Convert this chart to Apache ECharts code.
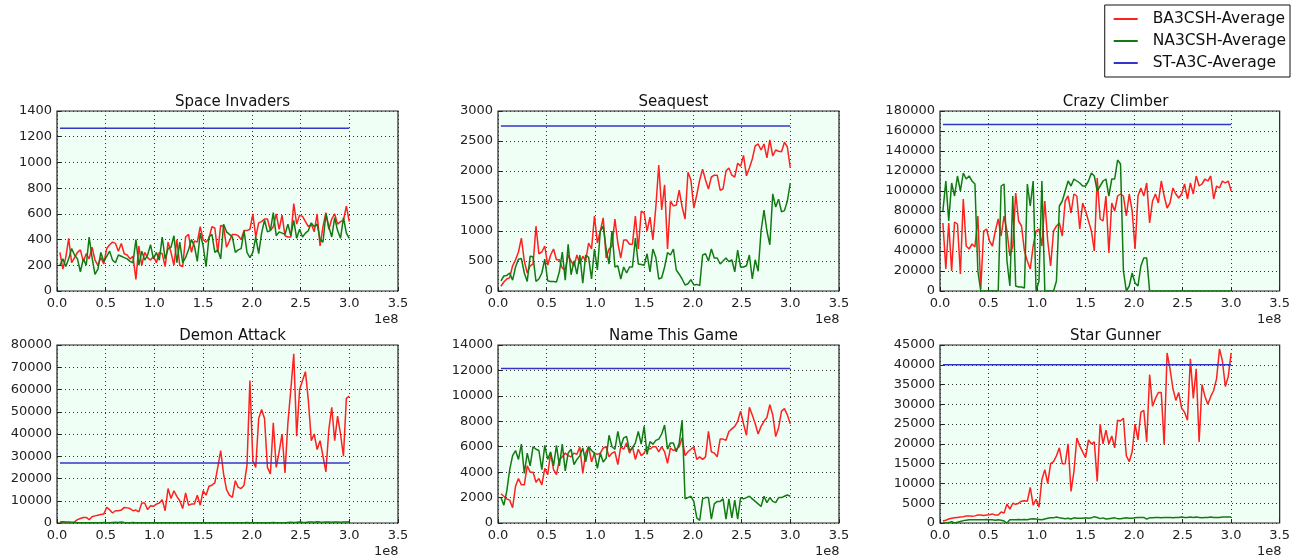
<!DOCTYPE html>
<html><head><meta charset="utf-8">
<script src="https://cdn.jsdelivr.net/npm/echarts@6/dist/echarts.min.js"></script>
<style>html,body{margin:0;padding:0;background:#fff}#c{width:1293px;height:558px}</style>
</head><body><div id="c"></div>
<script>
const steps = [0.03,0.06,0.09,0.12,0.15,0.18,0.21,0.24,0.27,0.30,
0.33,0.36,0.39,0.42,0.45,0.48,0.51,0.54,0.57,0.60,
0.63,0.66,0.69,0.72,0.75,0.78,0.81,0.84,0.87,0.90,
0.93,0.96,0.99,1.02,1.05,1.08,1.11,1.14,1.17,1.20,
1.23,1.26,1.29,1.32,1.35,1.38,1.41,1.44,1.47,1.50,
1.53,1.56,1.59,1.62,1.65,1.68,1.71,1.74,1.77,1.80,
1.83,1.86,1.89,1.92,1.95,1.98,2.01,2.04,2.07,2.10,
2.13,2.16,2.19,2.22,2.25,2.28,2.31,2.34,2.37,2.40,
2.43,2.46,2.49,2.52,2.55,2.58,2.61,2.64,2.67,2.70,
2.73,2.76,2.79,2.82,2.85,2.88,2.91,2.94,2.97,3.00];

const titles = ["Space Invaders","Seaquest","Crazy Climber","Demon Attack","Name This Game","Star Gunner"];
const seriesNames = ["BA3CSH-Average","NA3CSH-Average","ST-A3C-Average"];
const yMax = [1400,3000,180000,80000,14000,45000];
const yStep = [200,500,20000,10000,2000,5000];
const stA3C = [1265,2750,166500,27000,12150,40000];

const siBA = [300,170,260,410,220,260,300,320,230,290,
250,340,240,200,260,210,330,360,380,370,
310,370,290,280,250,270,90,350,200,300,
260,240,270,220,300,290,190,380,300,200,
400,200,190,420,440,300,390,380,500,400,
380,410,500,490,300,510,500,340,390,440,
440,430,400,470,470,480,600,420,530,540,
560,560,470,500,600,480,590,430,420,420,
680,520,590,580,540,500,520,460,600,350,
500,610,480,560,600,520,540,550,660,540];
const siNA = [200,250,190,250,330,280,250,150,250,200,
420,260,130,170,300,230,270,310,240,220,
280,270,260,250,230,220,400,200,310,240,
280,360,250,300,240,420,250,330,340,430,
220,380,220,260,320,400,350,230,450,350,
190,420,440,300,320,250,520,460,440,420,
300,320,330,470,300,260,300,420,290,450,
550,460,470,610,430,460,450,440,520,430,
550,410,480,420,450,470,530,500,520,400,
380,600,500,420,570,470,410,570,450,410];

const sqBA = [80,150,200,220,420,520,650,880,500,300,
420,450,1080,620,650,750,430,600,700,520,
520,380,350,600,500,420,600,450,580,500,
800,700,1250,800,1000,1220,550,700,750,1200,
800,550,850,850,780,780,1250,700,1330,1300,
1000,1230,850,1400,2100,1350,1770,700,1500,1420,
1430,1680,1400,1200,1980,1850,1380,1600,1850,2030,
1850,1700,1900,1930,1930,1680,1700,2000,2050,1930,
1900,2130,2080,2260,1920,2050,2200,2420,2450,2350,
2450,2220,2520,2250,2350,2330,2320,2480,2400,2050];
const sqNA = [170,250,260,300,180,400,530,540,300,160,
580,570,160,200,300,530,170,160,160,150,
320,650,180,780,270,500,280,600,130,600,
560,200,700,350,1000,1080,700,450,1000,400,
420,200,400,300,400,400,880,450,440,430,
620,320,700,560,200,220,400,640,600,700,
350,280,200,100,120,190,100,110,90,600,
620,500,700,550,550,450,500,550,490,520,
320,680,400,400,420,600,200,520,330,1000,
1350,1000,770,1620,1400,1530,1320,1340,1500,1800];

const ccBA = [68000,22000,68000,20000,69000,67000,17000,92000,45000,42000,
47000,44000,75000,2000,60000,62000,50000,45000,60000,72000,
55000,75000,60000,35000,45000,98000,70000,65000,40000,30000,
22000,45000,60000,62000,45000,90000,50000,25000,60000,65000,
68000,55000,90000,95000,78000,97000,95000,62000,88000,80000,
70000,60000,40000,113000,72000,70000,95000,38000,88000,80000,
95000,97000,95000,75000,97000,80000,42000,95000,103000,95000,
108000,68000,90000,97000,88000,110000,95000,83000,88000,103000,
97000,93000,97000,107000,92000,108000,97000,115000,105000,107000,
112000,110000,115000,92000,105000,103000,110000,108000,110000,100000];
const ccNA = [80000,110000,70000,108000,95000,115000,100000,118000,112000,115000,
110000,107000,20000,0,0,0,0,0,0,0,
105000,107000,30000,5000,95000,5000,4000,4000,3000,107000,
85000,110000,0,10000,110000,0,0,0,0,10000,
85000,90000,100000,110000,105000,112000,110000,108000,105000,105000,
110000,118000,115000,100000,105000,110000,112000,95000,112000,112000,
131000,127000,20000,0,5000,18000,8000,5000,25000,33000,
33000,0,0,0,0,0,0,0,0,0,
0,0,0,0,0,0,0,0,0,0,
0,0,0,0,0,0,0,0,0,0];

const daBA = [0,0,0,0,0,500,1500,2000,2500,2500,
1500,2800,3200,3500,3800,4000,7000,6000,4500,5500,
5500,5800,7000,6800,6500,5500,5800,5000,9000,9000,
6000,7800,7500,8500,9000,10500,5500,15500,11000,14500,
12000,10000,6500,13500,8000,8500,8500,12500,8000,14500,
12500,16500,17000,18000,25000,32500,22000,15000,12500,11500,
19000,16000,15500,17000,26000,64000,28000,25000,47000,51000,
47000,25000,22000,45000,25000,32000,40000,22500,45000,60000,
76000,39000,60000,64000,68000,55000,37000,40000,33000,37000,
30000,23000,42000,52000,37000,48000,40000,30000,56000,57000];
const daNA = [500,600,500,400,300,200,150,100,100,100,
100,100,150,100,100,200,150,100,200,300,
200,500,200,150,100,200,100,150,100,100,
150,100,100,150,100,100,150,100,100,100,
100,100,100,150,100,100,100,150,100,100,
100,150,100,100,100,150,100,100,100,150,
100,100,150,100,200,100,100,150,100,100,
150,100,100,200,100,150,100,100,200,300,
200,300,500,300,200,400,500,300,600,400,
300,500,400,300,500,400,300,500,400,600];

const ntBA = [2300,2100,1900,1800,1200,2900,3500,3000,3000,4500,
4000,4000,3200,3500,3000,4300,3800,5500,4200,3800,
5000,5200,5500,5300,5200,5500,5400,6000,3900,5500,
6000,4800,5500,5400,5500,5900,6000,5200,5500,5600,
4600,6000,5800,6300,5500,6000,5000,5800,5300,5500,
6000,5800,6000,6000,5600,6000,5600,4700,5900,5700,
5800,6000,6700,5300,5600,5800,6000,5000,5200,5000,
5200,7200,5600,5500,5200,6600,6600,6500,7200,7400,
7600,8000,8800,7800,6900,9100,8500,7800,7000,7600,
8000,8300,9300,8500,6800,7500,8800,9000,8500,7800];
const ntNA = [2000,1400,2500,4200,5300,5700,5000,6200,3900,5500,
4500,6000,5800,5700,4200,6100,5000,5600,4500,6100,
4500,6200,4100,5500,5800,4600,5000,5300,5900,4800,
6000,5700,5500,4300,5500,4800,5100,6900,6000,5800,
7200,6000,6700,6800,5700,5900,6300,7200,6200,7600,
5400,6400,6200,6500,6600,7000,7700,5800,6300,6300,
5600,6300,8100,1900,2000,2100,1700,400,200,1900,
2000,2000,300,1500,1700,1700,1900,300,1900,400,
1800,300,2000,1900,2000,2100,1900,1700,1500,1300,
2100,1600,2000,1700,1600,2000,2000,2100,2200,2100];

const sgBA = [500,700,1000,1200,1300,1400,1500,1600,1800,1800,
1700,1800,2000,2000,1900,2000,2100,2300,2000,2000,
2800,2500,4800,3500,5000,4700,5000,5500,5600,5500,
9000,4500,6000,4000,11000,13500,10000,15000,15500,17000,
19000,15000,15000,20000,8000,13000,21500,19500,18000,16500,
21000,20000,20500,10500,25000,20000,23500,20000,22000,19000,
26000,25800,26500,17000,15500,18000,25000,21000,28000,28500,
20500,37500,29500,31500,33000,33000,19800,43000,39000,34000,
31000,33000,29000,28000,26000,41500,31500,39000,20500,35000,
32000,30000,32000,33500,36500,44000,41000,34500,37000,43000];
const sgNA = [0,0,100,300,0,200,400,600,700,800,
800,800,800,800,800,900,800,800,700,800,
700,500,0,800,800,800,900,800,900,800,
1000,1100,1000,900,800,1000,1200,1300,1300,1500,
1300,1200,1100,1200,1000,1300,1200,1200,1200,1300,
1200,1300,1600,1400,1100,1300,1000,1100,1200,1300,
1100,1100,1200,1300,1200,1200,1300,1400,1400,1400,
1000,1300,1300,1400,1400,1300,1400,1400,1400,1300,
1400,1400,1500,1400,1400,1500,1400,1500,1400,1300,
1400,1400,1500,1400,1400,1400,1500,1500,1500,1500];

const baData = [siBA, sqBA, ccBA, daBA, ntBA, sgBA];
const naData = [siNA, sqNA, ccNA, daNA, ntNA, sgNA];

const colors = ['#ff2020', '#127a12', '#3434c8'];
const gLeft = [57, 498, 940];
const gTop = [111, 345];
const gW = 341;
const gH = [180, 178];
const font = 'DejaVu Sans';

const grids = [], xAxes = [], yAxes = [], series = [], titleArr = [], graphics = [];
for (let k = 0; k < 6; k++) {
  const r = Math.floor(k / 3), c = k % 3;
  grids.push({left: gLeft[c], top: gTop[r], width: gW, height: gH[r],
    show: true, backgroundColor: '#f0fff6', borderColor: '#222', borderWidth: 1.2});
  xAxes.push({type: 'value', gridIndex: k, min: 0, max: 3.5, interval: 0.5,
    axisLine: {show: false}, axisTick: {inside: true, length: 4, lineStyle: {color: '#222'}},
    axisLabel: {color: '#222', fontFamily: font, fontSize: 13, margin: 6, formatter: v => v.toFixed(1)},
    splitLine: {show: true, lineStyle: {color: '#333', type: [1, 3], width: 1}}});
  yAxes.push({type: 'value', gridIndex: k, min: 0, max: yMax[k], interval: yStep[k],
    axisLine: {show: false}, axisTick: {show: true, inside: true, length: 4, lineStyle: {color: '#222'}},
    axisLabel: {color: '#222', fontFamily: font, fontSize: 13, margin: 5, formatter: v => String(v)},
    splitLine: {show: true, lineStyle: {color: '#333', type: [1, 3], width: 1}}});
  titleArr.push({text: titles[k], left: gLeft[c] + gW / 2, top: gTop[r] - 21, textAlign: 'center',
    textStyle: {fontFamily: font, fontSize: 15, fontWeight: 'normal', color: '#111'}});
  graphics.push({type: 'text', left: gLeft[c] + gW - 24, top: gTop[r] + gH[r] + 22,
    style: {text: '1e8', font: '13px "DejaVu Sans"', fill: '#222'}});
  const mk = arr => steps.map((x, i) => [x, arr[i]]);
  series.push({name: seriesNames[0], type: 'line', xAxisIndex: k, yAxisIndex: k, data: mk(baData[k]),
    showSymbol: false, lineStyle: {color: colors[0], width: 1.5}, itemStyle: {color: colors[0]}, z: 3, animation: false});
  series.push({name: seriesNames[1], type: 'line', xAxisIndex: k, yAxisIndex: k, data: mk(naData[k]),
    showSymbol: false, lineStyle: {color: colors[1], width: 1.5}, itemStyle: {color: colors[1]}, z: 4, animation: false});
  series.push({name: seriesNames[2], type: 'line', xAxisIndex: k, yAxisIndex: k,
    data: [[steps[0], stA3C[k]], [steps[steps.length - 1], stA3C[k]]],
    showSymbol: false, lineStyle: {color: colors[2], width: 1.5}, itemStyle: {color: colors[2]}, z: 5, animation: false});
}

const chart = echarts.init(document.getElementById('c'), null, {renderer: 'canvas'});
chart.setOption({
  animation: false,
  backgroundColor: '#fff',
  title: titleArr,
  grid: grids, xAxis: xAxes, yAxis: yAxes, series: series,
  graphic: graphics,
  legend: {data: seriesNames, orient: 'vertical', right: 3, top: 5, icon: 'rect',
    itemWidth: 24, itemHeight: 2, itemGap: 6, padding: [6, 4, 6, 9],
    backgroundColor: '#fff', borderColor: '#111', borderWidth: 1,
    textStyle: {fontFamily: font, fontSize: 15.5, color: '#111', padding: [0, 0, 0, 10]},
    selectedMode: false}
});
</script></body></html>
